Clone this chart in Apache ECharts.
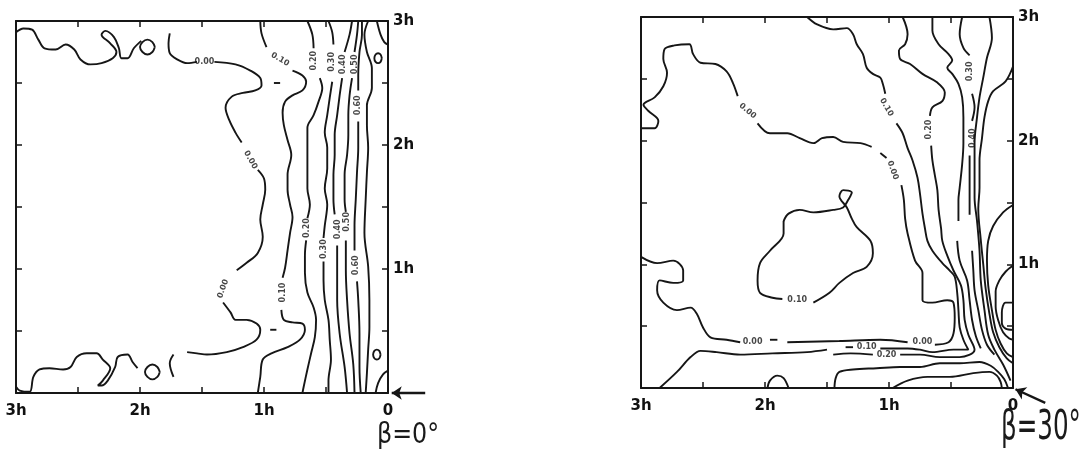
<!DOCTYPE html>
<html><head><meta charset="utf-8">
<script src="https://cdn.jsdelivr.net/npm/echarts/dist/echarts.min.js"></script>
<style>html,body{margin:0;padding:0;background:#fff}#c{width:1082px;height:458px}</style>
</head><body><div id="c"></div><script>
// ---- tick labels (axis units: h; x measured leftwards from 0, y upwards from 0) ----
const tickValues = [0, 1, 2, 3];
const xTickLabels = ['0', '1h', '2h', '3h'];
const yTickLabels = ['', '1h', '2h', '3h'];
const panelTitles = ['β=0°', 'β=30°'];

// ---- left panel (β=0°) contour lines; null = gap for a contour label ----
const leftC000 = [[3.00,2.91],[2.94,2.94],[2.87,2.93],[2.82,2.85],[2.77,2.78],[2.68,2.77],[2.60,2.81],[2.53,2.77],[2.48,2.69],[2.40,2.65],[2.31,2.66],[2.22,2.70],[2.19,2.75],[2.24,2.82],[2.31,2.89],[2.28,2.92],[2.21,2.87],[2.17,2.78],[2.15,2.70],[2.10,2.70],[2.05,2.78],[1.99,2.84],
  null,[1.76,2.90],[1.77,2.82],[1.76,2.74],[1.70,2.69],[1.62,2.66],[1.54,2.67],
  null,[1.40,2.67],[1.23,2.65],[1.11,2.60],[1.03,2.54],[1.02,2.48],[1.07,2.44],[1.17,2.42],[1.26,2.39],[1.31,2.30],[1.28,2.20],[1.23,2.10],[1.18,2.02],
  null,[1.05,1.80],[1.00,1.73],[0.99,1.64],[1.01,1.52],[1.03,1.40],[1.01,1.26],[1.05,1.13],[1.14,1.05],[1.22,0.99],
  null,[1.33,0.73],[1.27,0.65],[1.23,0.59],[1.14,0.59],[1.06,0.56],[1.03,0.51],[1.06,0.43],[1.17,0.37],[1.30,0.33],[1.46,0.31],[1.54,0.32],[1.62,0.33],
  null,[1.73,0.31],[1.76,0.24],[1.73,0.13]];
const leftC000b = [[3.00,0.05],[2.97,0.02],[2.89,0.01],[2.86,0.13],[2.81,0.19],[2.73,0.20],[2.62,0.19],[2.56,0.21],[2.51,0.29],[2.43,0.32],[2.35,0.32],[2.30,0.27],[2.24,0.20],[2.30,0.10],[2.34,0.06],[2.31,0.06],[2.26,0.10],[2.20,0.21],[2.18,0.29],[2.10,0.31],[2.06,0.25],[2.02,0.20]];
const leftRingA = [[1.88,2.79],[1.90,2.83],[1.94,2.85],[1.98,2.83],[2.00,2.79],[1.98,2.75],[1.94,2.73],[1.90,2.75],[1.88,2.79]];
const leftRingB = [[1.84,0.17],[1.86,0.21],[1.90,0.23],[1.94,0.21],[1.96,0.17],[1.94,0.13],[1.90,0.11],[1.86,0.13],[1.84,0.17]];
const leftRingC = [[0.05,2.70],[0.06,2.73],[0.08,2.74],[0.10,2.73],[0.11,2.70],[0.10,2.67],[0.08,2.66],[0.06,2.67],[0.05,2.70]];
const leftRingD = [[0.06,0.31],[0.07,0.34],[0.09,0.35],[0.11,0.34],[0.12,0.31],[0.11,0.28],[0.09,0.27],[0.07,0.28],[0.06,0.31]];
const leftC010 = [[1.03,3.00],[1.02,2.90],[0.98,2.79],null,[0.77,2.60],[0.69,2.56],[0.66,2.51],[0.69,2.44],[0.77,2.40],[0.83,2.35],[0.85,2.26],[0.84,2.16],[0.81,2.04],[0.78,1.92],[0.81,1.76],[0.81,1.64],[0.79,1.52],[0.77,1.42],[0.79,1.29],[0.81,1.15],[0.83,1.01],[0.85,0.93],
  null,[0.86,0.67],[0.84,0.59],[0.77,0.57],[0.69,0.56],[0.67,0.51],[0.71,0.43],[0.81,0.37],[0.94,0.32],[1.01,0.27],[1.03,0.13],[1.05,0.00]];
const leftDashes = [[0.92,2.50],[0.87,2.50],null,[0.95,0.51],[0.90,0.51]];
const leftC020 = [[0.65,3.00],[0.61,2.89],[0.60,2.78],null,[0.55,2.54],[0.53,2.46],[0.56,2.35],[0.60,2.24],[0.65,2.14],[0.65,1.98],[0.65,1.84],[0.65,1.65],[0.63,1.52],[0.65,1.41],null,[0.66,1.23],[0.67,1.11],[0.67,0.97],[0.65,0.81],[0.60,0.69],[0.58,0.59],[0.59,0.45],[0.62,0.32],[0.65,0.19],[0.68,0.05],[0.69,0.00]];
const leftC030 = [[0.48,3.00],[0.45,2.91],[0.44,2.81],null,[0.45,2.51],[0.47,2.38],[0.49,2.24],[0.51,2.10],[0.49,1.98],[0.49,1.81],[0.51,1.65],[0.49,1.52],[0.51,1.35],[0.52,1.25],null,[0.52,1.06],[0.52,0.91],[0.51,0.75],[0.48,0.59],[0.47,0.43],[0.46,0.27],[0.48,0.10],[0.48,0.00]];
const leftC040 = [[0.29,3.00],[0.31,2.89],[0.35,2.75],null,[0.37,2.54],[0.39,2.40],[0.41,2.24],[0.43,2.08],[0.43,1.92],[0.44,1.76],[0.44,1.56],[0.43,1.44],null,[0.41,1.19],[0.41,0.99],[0.41,0.75],[0.39,0.48],[0.35,0.21],[0.33,0.00]];
const leftC050 = [[0.24,3.00],[0.25,2.89],[0.27,2.75],null,[0.29,2.54],[0.31,2.40],[0.32,2.24],[0.32,2.08],[0.33,1.92],[0.35,1.76],[0.35,1.56],[0.34,1.46],null,[0.34,1.23],[0.34,0.99],[0.33,0.75],[0.31,0.48],[0.28,0.23],[0.27,0.00]];
const leftC060 = [[0.21,3.00],[0.21,2.89],[0.23,2.75],[0.24,2.56],[0.24,2.44],null,[0.24,2.19],[0.24,1.98],[0.25,1.78],[0.26,1.56],[0.27,1.35],[0.27,1.15],null,[0.25,0.90],[0.24,0.75],[0.23,0.48],[0.23,0.21],[0.22,0.00]];
const leftC070 = [[0.16,3.00],[0.19,2.89],[0.17,2.75],[0.13,2.62],[0.13,2.46],[0.17,2.32],[0.17,2.16],[0.16,1.98],[0.17,1.78],[0.18,1.56],[0.19,1.29],[0.16,1.02],[0.15,0.75],[0.15,0.53],[0.16,0.35],[0.17,0.16],[0.18,0.00]];
const leftCornerTop = [[0.09,3.00],[0.06,2.89],[0.03,2.83],[0.00,2.81]];
const leftCornerBottom = [[0.10,0.00],[0.08,0.08],[0.04,0.15],[0.00,0.18]];
const leftLabelPos = [[1.48,2.67],[1.11,1.88],[1.33,0.84],[0.87,2.69],[0.85,0.81],[0.60,2.68],[0.65,1.33],[0.45,2.67],[0.52,1.16],[0.36,2.65],[0.40,1.32],[0.27,2.65],[0.33,1.38],[0.24,2.32],[0.26,1.03]];
const leftLabelText = ['0.00','0.00','0.00','0.10','0.10','0.20','0.20','0.30','0.30','0.40','0.40','0.50','0.50','0.60','0.60'];

// ---- right panel (β=30°) contour lines ----
const rightC000 = [[3.00,2.10],[2.89,2.10],[2.86,2.16],[2.94,2.24],[2.98,2.29],[2.89,2.35],[2.82,2.44],[2.79,2.55],[2.82,2.66],[2.81,2.74],[2.73,2.77],[2.61,2.78],[2.58,2.70],[2.52,2.63],[2.40,2.62],[2.31,2.56],[2.26,2.47],[2.22,2.36],
  null,[2.06,2.14],[1.96,2.06],[1.82,2.06],[1.72,2.02],[1.61,1.98],[1.54,2.02],[1.45,2.03],[1.37,1.99],[1.23,1.98],[1.14,1.95],
  null,[1.07,1.90],[1.02,1.86],
  null,[0.90,1.64],[0.88,1.52],[0.87,1.37],[0.85,1.25],[0.79,1.03],[0.73,0.93],[0.73,0.81],[0.73,0.71],[0.65,0.69],[0.53,0.71],[0.48,0.69],[0.47,0.57],[0.48,0.44],[0.52,0.37],[0.63,0.35],
  null,[0.85,0.37],[1.07,0.39],[1.40,0.38],[1.82,0.37],
  null,[1.96,0.39],[1.90,0.39],
  null,[2.20,0.37],[2.31,0.39],[2.44,0.41],[2.50,0.49],[2.55,0.60],[2.60,0.65],[2.71,0.63],[2.82,0.69],[2.87,0.79],[2.85,0.87],[2.74,0.85],[2.66,0.87],[2.66,0.95],[2.74,1.03],[2.87,1.01],[3.00,1.06]];
const rightIsland = [[1.85,1.35],[1.85,1.25],[1.96,1.11],[2.04,1.01],[2.06,0.87],[2.04,0.77],[1.94,0.73],[1.86,0.72],
  null,[1.61,0.69],[1.48,0.77],[1.40,0.85],[1.29,0.93],[1.18,0.98],[1.13,1.09],[1.15,1.19],[1.26,1.30],[1.30,1.37],[1.34,1.46],[1.40,1.55],[1.37,1.60],[1.30,1.58],[1.33,1.52],[1.37,1.46],[1.45,1.44],[1.61,1.42],[1.72,1.44],[1.81,1.41],[1.85,1.35]];
const rightC010 = [[1.66,3.00],[1.58,2.94],[1.45,2.90],[1.34,2.91],[1.29,2.86],[1.26,2.78],[1.21,2.70],[1.18,2.59],[1.13,2.54],[1.07,2.51],[1.05,2.46],[1.03,2.38],
  null,[0.94,2.14],[0.89,2.06],[0.85,1.94],[0.81,1.84],[0.77,1.70],[0.75,1.57],[0.73,1.41],[0.71,1.29],[0.69,1.19],[0.65,1.11],[0.57,1.01],[0.51,0.95],[0.47,0.90],[0.45,0.77],[0.44,0.63],[0.43,0.49],[0.40,0.39],[0.36,0.31],[0.48,0.31],[0.65,0.29],[0.75,0.31],[0.85,0.32],[1.07,0.32],
  null,[1.29,0.33],[1.35,0.33],
  null,[1.50,0.31],[1.66,0.29],[1.94,0.28],[2.20,0.27],[2.39,0.29],[2.52,0.30],[2.60,0.25],[2.71,0.13],[2.85,0.00]];
const rightC020 = [[0.89,3.00],[0.85,2.86],[0.87,2.78],[0.92,2.73],[0.91,2.66],[0.83,2.62],[0.73,2.54],[0.61,2.47],[0.55,2.39],[0.57,2.32],[0.65,2.27],[0.67,2.20],
  null,[0.66,1.96],[0.65,1.84],[0.63,1.72],[0.61,1.60],[0.60,1.44],[0.58,1.29],[0.57,1.19],[0.53,1.07],[0.48,0.95],[0.42,0.83],[0.40,0.71],[0.39,0.55],[0.36,0.43],[0.31,0.31],[0.43,0.25],[0.59,0.25],[0.75,0.27],[0.91,0.27],
  null,[1.13,0.27],[1.31,0.28],[1.45,0.27]];
const rightC030 = [[0.65,3.00],[0.65,2.89],[0.60,2.78],[0.52,2.70],[0.49,2.65],[0.53,2.59],[0.49,2.54],[0.44,2.46],[0.41,2.35],[0.40,2.19],[0.40,1.98],[0.41,1.81],[0.43,1.62],[0.44,1.52],[0.44,1.35],
  null,[0.45,1.19],[0.43,1.03],[0.37,0.87],[0.35,0.71],[0.33,0.55],[0.30,0.42],[0.26,0.32]];
const rightC040 = [[0.41,3.00],[0.43,2.86],[0.40,2.75],[0.35,2.69],null,[0.33,2.38],[0.31,2.27],[0.33,2.16],null,[0.35,1.88],[0.35,1.72],[0.35,1.56],[0.35,1.40],null,[0.33,1.11],[0.32,0.95],[0.31,0.79],[0.28,0.63],[0.25,0.47],[0.21,0.35],[0.15,0.27]];
const rightC050 = [[0.19,3.00],[0.17,2.83],[0.21,2.67],[0.24,2.51],[0.27,2.35],[0.29,2.19],[0.31,1.98],[0.31,1.76],[0.31,1.54],[0.29,1.35],[0.27,1.11],[0.26,0.87],[0.23,0.63],[0.20,0.43],[0.15,0.31],[0.08,0.19],[0.02,0.06]];
const rightC060 = [[0.00,2.60],[0.06,2.48],[0.16,2.40],[0.20,2.32],[0.23,2.19],[0.25,2.02],[0.27,1.84],[0.27,1.62],[0.28,1.45],[0.26,1.20],[0.24,1.00],[0.22,0.80],[0.19,0.60],[0.16,0.45],[0.11,0.33],[0.05,0.24],[0.00,0.20]];
const rightC070 = [[0.00,1.48],[0.08,1.42],[0.16,1.31],[0.20,1.19],[0.21,1.03],[0.20,0.83],[0.17,0.63],[0.14,0.47],[0.10,0.36],[0.05,0.28],[0.00,0.25]];
const rightC080 = [[0.00,0.99],[0.06,0.94],[0.11,0.87],[0.14,0.78],[0.14,0.66],[0.12,0.55],[0.08,0.45],[0.03,0.40],[0.00,0.39]];
const rightC090 = [[0.00,0.69],[0.06,0.69],[0.09,0.61],[0.09,0.53],[0.06,0.48],[0.00,0.47]];
const rightH3 = [[1.44,0.00],[1.43,0.08],[1.40,0.13],[1.29,0.15],[1.10,0.16],[0.91,0.17],[0.75,0.17],[0.59,0.20],[0.43,0.20],[0.27,0.21],[0.18,0.18],[0.12,0.13],[0.07,0.07],[0.04,0.00]];
const rightH4 = [[0.97,0.00],[0.85,0.06],[0.69,0.09],[0.51,0.09],[0.32,0.12],[0.19,0.13],[0.13,0.10],[0.10,0.05],[0.09,0.00]];
const rightDome = [[1.98,0.00],[1.96,0.06],[1.90,0.10],[1.85,0.08],[1.81,0.00]];
const rightLabelPos = [[2.14,2.24],[0.97,1.76],[0.73,0.37],[2.10,0.37],[1.02,2.27],[1.74,0.71],[1.18,0.33],[1.02,0.27],[0.68,2.09],[0.35,2.56],[0.32,2.02]];
const rightLabelText = ['0.00','0.00','0.00','0.00','0.10','0.10','0.10','0.20','0.20','0.30','0.40'];

// ---- pointer arrows next to the origin of each panel (axis units) ----
const leftArrow = [[-0.30, 0.00], [-0.03, 0.00]];
const rightArrow = [[-0.26, -0.12], [-0.02, -0.01]];

// ---------------- build chart ----------------
const leftLines = [leftC000, leftC000b, leftRingA, leftRingB, leftRingC, leftRingD, leftC010, leftDashes, leftC020, leftC030, leftC040, leftC050, leftC060, leftC070, leftCornerTop, leftCornerBottom];
const rightLines = [rightC000, rightIsland, rightC010, rightC020, rightC030, rightC040, rightC050, rightC060, rightC070, rightC080, rightC090, rightH3, rightH4, rightDome];
const leftLabelRot = [0, -60, 70, -30, 90, 90, 90, 90, 90, 90, 90, 90, 90, 90, 90];
const rightLabelRot = [-40, -70, 0, 0, -60, 0, 0, 0, 90, 90, 90];

function segments(arr) {
  const out = []; let cur = [];
  arr.forEach(p => { if (p === null) { if (cur.length) out.push(cur); cur = []; } else cur.push(p); });
  if (cur.length) out.push(cur);
  return out;
}
const INK = '#161616';
const series = [];
function addPanel(lines, idx) {
  lines.forEach(arr => segments(arr).forEach(seg => series.push({
    type: 'line', xAxisIndex: idx * 2, yAxisIndex: idx * 2, data: seg,
    showSymbol: false, symbol: 'none', smooth: 0.35, silent: true,
    lineStyle: { color: INK, width: 1.9 }
  })));
}
addPanel(leftLines, 0);
addPanel(rightLines, 1);

function labelSeries(pos, text, rot, idx) {
  return {
    type: 'scatter', xAxisIndex: idx * 2, yAxisIndex: idx * 2, symbolSize: 0, silent: true,
    data: pos.map((p, i) => ({ value: p, name: text[i], label: { rotate: rot[i] } })),
    label: { show: true, position: 'inside', formatter: d => d.name, fontSize: 8, fontWeight: 'bold', color: INK, fontFamily: 'DejaVu Sans' }
  };
}
series.push(labelSeries(leftLabelPos, leftLabelText, leftLabelRot, 0));
series.push(labelSeries(rightLabelPos, rightLabelText, rightLabelRot, 1));

function arrowSeries(ar, idx) {
  return {
    type: 'lines', coordinateSystem: 'cartesian2d', xAxisIndex: idx * 2, yAxisIndex: idx * 2,
    clip: false, silent: true, symbol: ['none', 'arrow'], symbolSize: 10,
    lineStyle: { color: INK, width: 2.4, opacity: 1 },
    data: [{ coords: ar }]
  };
}
series.push(arrowSeries(leftArrow, 0));
series.push(arrowSeries(rightArrow, 1));

function lab(v, labels) {
  const i = tickValues.findIndex(t => Math.abs(t - v) < 1e-6);
  return i < 0 ? '' : labels[i];
}
const axisFont = { color: '#111', fontFamily: 'DejaVu Sans', fontWeight: 'bold', fontSize: 15 };
function xAx(g, pos, show) {
  return {
    type: 'value', gridIndex: g, position: pos, min: 0, max: 3, interval: 0.5, inverse: true,
    axisLine: { show: true, onZero: false, lineStyle: { color: INK, width: 2 } },
    axisTick: { show: true, inside: true, length: 6, lineStyle: { color: INK, width: 1.5 } },
    axisLabel: Object.assign({ show: show, margin: 11, showMinLabel: true, showMaxLabel: true, formatter: v => lab(v, xTickLabels) }, axisFont),
    splitLine: { show: false }
  };
}
function yAx(g, pos, show) {
  return {
    type: 'value', gridIndex: g, position: pos, min: 0, max: 3, interval: 0.5,
    axisLine: { show: true, onZero: false, lineStyle: { color: INK, width: 2 } },
    axisTick: { show: true, inside: true, length: 6, lineStyle: { color: INK, width: 1.5 } },
    axisLabel: Object.assign({ show: show, margin: 5, showMinLabel: true, showMaxLabel: true, formatter: v => lab(v, yTickLabels) }, axisFont),
    splitLine: { show: false }
  };
}
function titleText(text, x, y, size, sx) {
  return {
    type: 'text', x: x, y: y, scaleX: sx, silent: true,
    style: { text: text, fontSize: size, fontFamily: 'DejaVu Sans', fontWeight: 'normal', fill: '#1a1a1a', verticalAlign: 'top', textVerticalAlign: 'top' }
  };
}

const chart = echarts.init(document.getElementById('c'), null, { renderer: 'canvas' });
chart.setOption({
  animation: false,
  backgroundColor: '#fff',
  graphic: [titleText(panelTitles[0], 377, 421, 29, 0.82), titleText(panelTitles[1], 1001, 408, 41, 0.6)],
  grid: [
    { left: 16, top: 21, width: 372, height: 372 },
    { left: 641, top: 17, width: 372, height: 371 }
  ],
  xAxis: [xAx(0, 'bottom', true), xAx(0, 'top', false), xAx(1, 'bottom', true), xAx(1, 'top', false)],
  yAxis: [yAx(0, 'right', true), yAx(0, 'left', false), yAx(1, 'right', true), yAx(1, 'left', false)],
  series: series
});
</script></body></html>
